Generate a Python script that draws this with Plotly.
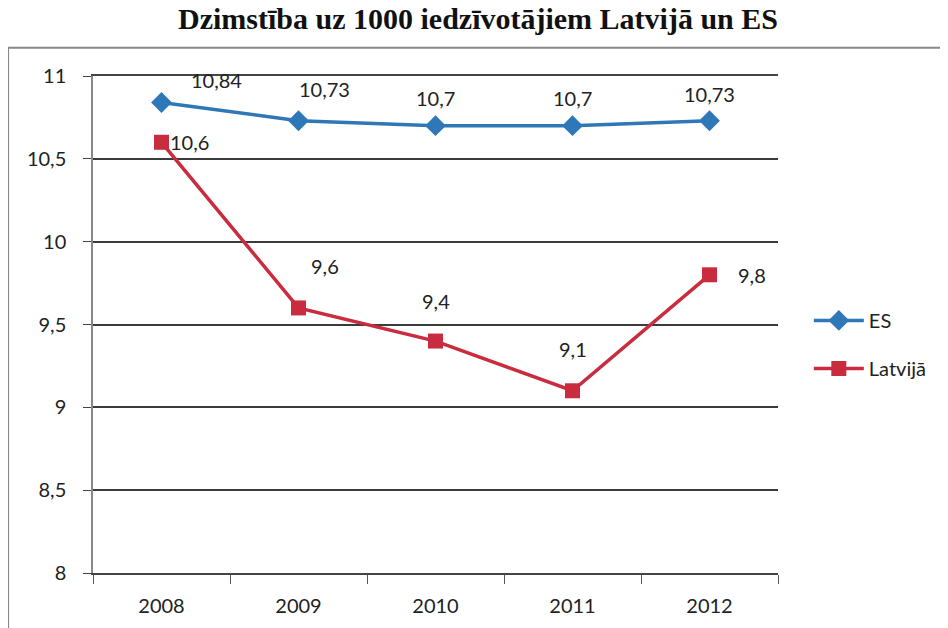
import plotly.graph_objects as go

# dati
years = ["2008", "2009", "2010", "2011", "2012"]
es = [10.84, 10.73, 10.7, 10.7, 10.73]
latvija = [10.6, 9.6, 9.4, 9.1, 9.8]
y_ticks = [8, 8.5, 9, 9.5, 10, 10.5, 11]
y_tick_text = ["8", "8,5", "9", "9,5", "10", "10,5", "11"]

# etiķešu nobīdes (px)
es_shift = [(55, 23), (26, 32), (0, 28), (0, 28), (0, 27)]
lv_shift = [(28, 0), (26, 42), (0, 40), (0, 42), (42, 0)]

FONT = "Lato, Open Sans, sans-serif"


def fmt(v):
    return ("%g" % v).replace(".", ",")


fig = go.Figure()

fig.add_trace(go.Scatter(
    x=years, y=es, name="ES", mode="lines+markers", legendgroup="es",
    line=dict(color="#2f78b8", width=3.5),
    marker=dict(symbol="diamond", size=16, color="#2f78b8"),
))

fig.add_trace(go.Scatter(
    x=years, y=latvija, name="Latvijā", mode="lines+markers", legendgroup="lv",
    line=dict(color="#c82c3e", width=3.5),
    marker=dict(symbol="square", size=15, color="#c82c3e"),
))

# kategoriju ass: anotācijām x ir kategorijas indekss
for vals, shifts in ((es, es_shift), (latvija, lv_shift)):
    for i, (v, (dx, dy)) in enumerate(zip(vals, shifts)):
        fig.add_annotation(x=i, y=v, text=fmt(v), showarrow=False,
                           xshift=dx, yshift=dy,
                           font=dict(family=FONT, size=20, color="#222"))

fig.update_layout(
    width=940, height=620,
    paper_bgcolor="white", plot_bgcolor="white",
    margin=dict(l=85, r=170, t=68, b=55, autoexpand=False),
    title=dict(text="<b>Dzimstība uz 1000 iedzīvotājiem Latvijā un ES</b>",
               x=0.5, xanchor="center", y=1, yanchor="top",
               font=dict(family="Liberation Serif, serif", size=30, color="#111")),
    font=dict(family=FONT, size=20, color="#222"),
    legend=dict(x=1.045, y=0.46, xanchor="left", yanchor="middle",
                font=dict(size=20), tracegroupgap=19, itemwidth=50),
    showlegend=True,
    xaxis=dict(type="category", range=[-0.5, 4.5], tickson="boundaries",
               ticks="outside", ticklen=9, tickcolor="#555",
               showline=True, linecolor="#444", linewidth=2, mirror=True,
               showgrid=False, tickfont=dict(size=20), automargin=False,
               ticklabelstandoff=14),
    yaxis=dict(range=[8, 11], tickvals=y_ticks, ticktext=y_tick_text,
               ticks="outside", ticklen=8, tickcolor="#444",
               showline=True, linecolor="#888", linewidth=1.5,
               showgrid=True, gridcolor="#3a3a3a", gridwidth=1.5,
               zeroline=False, tickfont=dict(size=20), automargin=False,
               ticklabelstandoff=13),
)

# rāmis ap diagrammu
fig.add_shape(type="rect", xref="paper", yref="paper",
              x0=-0.124, x1=1.244, y0=-0.2, y1=1.057,
              line=dict(color="#888", width=2), layer="below")

fig.write_html("out.html")
